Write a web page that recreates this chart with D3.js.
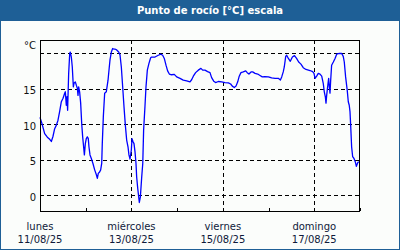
<!DOCTYPE html>
<html>
<head>
<meta charset="utf-8">
<script src="https://cdn.jsdelivr.net/npm/d3@7"></script>
<style>
html,body{margin:0;padding:0;background:#fbfdfb;}
svg{display:block;}
</style>
</head>
<body>
<svg id="chart" width="400" height="250"></svg>
<script>
// ---- data ----
const title = "Punto de rocío [°C] escala";
const unitLabel = "°C";
// hours since 11/08/25 00:00
const hours = [0,1.05,2.45,3.85,5.1,5.95,6.8,7.7,8.6,9.45,10.3,11.2,12.1,12.95,13.3,13.8,14.2,14.5,15.05,15.6,15.9,16.45,16.95,17.5,17.85,18.55,19.1,19.6,19.95,20.3,20.8,21.35,21.9,22.4,22.9,23.3,23.8,24.3,24.85,25.35,25.7,26.25,26.95,27.8,28.7,29.6,30.1,30.6,31.3,31.85,32.4,32.7,33.25,33.95,34.8,35.7,36.2,36.75,37.45,38.15,38.85,39.55,40.25,41.3,42,42.7,43.4,44.1,44.8,45.5,46.2,46.7,47.25,47.95,48.3,48.8,49.35,49.9,50.4,50.75,51.3,52.15,52.7,53.4,53.95,54.4,55.1,55.65,56.35,57.2,58.1,58.6,60.4,62.1,63.5,64.4,65.25,66.15,67.0,67.9,69.1,70.5,71.75,73.5,75.2,77.0,78.75,79.6,80.5,81.7,83.1,84.5,85.4,86.6,88.0,89.25,90.1,91.2,92.2,93.6,95.4,97.1,98.9,100.1,100.95,102.0,102.9,103.8,104.6,105.5,106.7,108.0,108.8,109.7,110.8,111.65,112.9,114.3,115.5,116.7,118.1,119.9,121.6,123.4,125.1,126.2,126.9,127.7,128.25,129.0,129.5,130.4,131.4,132.5,133.6,134.7,135.8,137.0,138.2,139.65,141.75,143.15,143.85,144.4,145.25,146.1,147.0,147.9,148.7,149.25,149.8,150.15,150.5,151.0,151.55,151.9,152.25,152.6,153.1,154.0,154.9,155.75,157.1,158.4,159.2,159.75,160.45,161.3,161.85,162.35,162.75,163.1,163.6,164.15,164.85,165.5,166.1,166.8,167.3];
const dewPoint = [11.0,10.1,8.7,8.2,7.9,7.6,8.3,9.4,9.9,10.6,11.8,13.2,13.7,14.4,14.6,12.7,13.9,12.0,17.2,20.0,20.2,19.5,18.1,15.3,15.8,16.0,15.5,15.1,14.1,15.3,14.6,13.0,10.1,8.25,6.85,5.7,7.3,8.0,8.25,8.0,6.85,5.7,5.2,4.5,3.6,2.9,2.4,3.1,3.3,3.6,4.5,7.3,11.1,14.4,14.6,16.2,17.6,19.1,20.2,20.7,20.6,20.6,20.5,20.2,19.8,18.1,15.3,12.5,9.9,7.8,6.85,5.7,5.1,6.4,8.0,7.6,7.3,6.1,4.5,2.6,1.0,-1.0,-0.2,2.6,4.5,9.2,12.5,15.3,17.65,18.6,19.4,19.5,19.5,19.75,19.9,19.75,19.3,18.35,17.55,17.1,17.0,17.05,16.7,16.5,16.25,16.15,16.0,16.3,16.8,17.3,17.65,17.9,17.65,17.65,17.45,17.3,16.6,16.1,15.9,16.05,16.0,15.9,15.85,15.7,15.4,15.2,15.4,16.0,16.8,17.3,17.4,17.55,17.3,17.1,17.4,17.4,17.2,17.1,16.9,16.7,16.75,16.7,16.55,16.5,16.5,16.25,16.7,17.4,18.1,19.6,19.75,19.3,18.9,19.5,19.7,19.3,18.8,18.5,18.0,17.75,17.6,17.45,17.2,16.5,16.8,17.2,17.1,16.8,15.8,14.6,13.9,13.0,14.1,15.3,16.5,15.3,14.4,16.2,18.35,18.8,19.3,19.9,20.0,20.0,19.6,18.8,16.7,14.8,13.2,12.7,11.8,9.9,6.85,5.45,5.2,4.75,4.1,4.6,4.75];
const yTicks = [0,5,10,15,20];
const yLabelTicks = [0,5,10,15];
const dayNames = ["lunes","miércoles","viernes","domingo"];
const dateLabels = ["11/08/25","13/08/25","15/08/25","17/08/25"];
const startDate = new Date(2025,7,11);
const endDate = new Date(2025,7,18);

// ---- layout ----
const W = 400, H = 250;
const L = 40, R = 360, T = 40, B = 211;
const blue = "#1e5f96";
const svg = d3.select("#chart");

svg.append("rect").attr("x",0).attr("y",0).attr("width",W).attr("height",H).attr("fill","#fbfdfb");
svg.append("rect").attr("x",0).attr("y",0).attr("width",W).attr("height",21).attr("fill",blue);
svg.append("rect").attr("x",0.5).attr("y",0.5).attr("width",W-1).attr("height",H-1)
  .attr("fill","none").attr("stroke",blue).attr("stroke-width",1);
svg.append("text").attr("x",210).attr("y",14).attr("text-anchor","middle")
  .attr("fill","#ffffff").attr("font-family","DejaVu Sans").attr("font-weight","bold")
  .attr("font-size","10px").text(title);

const x = d3.scaleTime().domain([startDate,endDate]).range([L,R]);
const y = d3.scaleLinear().domain([-2.2,21.9]).range([B,T]);

const data = hours.map((h,i)=>({t:new Date(startDate.getTime()+h*3600e3), v:dewPoint[i]}));
const labelDates = dateLabels.map(s=>{const p=s.split("/");return new Date(2000+(+p[2]),+p[1]-1,+p[0]);});

// grid
const grid = svg.append("g").attr("stroke","#000").attr("stroke-width",1)
  .attr("stroke-dasharray","4,3").attr("shape-rendering","crispEdges");
grid.selectAll("line.h").data(yTicks).join("line").attr("class","h")
  .attr("x1",L).attr("x2",R).attr("y1",d=>Math.round(y(d))+0.5).attr("y2",d=>Math.round(y(d))+0.5);
grid.selectAll("line.v").data(labelDates.slice(1)).join("line").attr("class","v")
  .attr("x1",d=>Math.round(x(d))+0.5).attr("x2",d=>Math.round(x(d))+0.5).attr("y1",T).attr("y2",B);

// day ticks (inside, upward)
const xAxis = d3.axisBottom(x).ticks(d3.timeDay.every(1)).tickSizeInner(-3).tickSizeOuter(0).tickFormat("");
const gx = svg.append("g").attr("transform",`translate(0,${B})`).call(xAxis);
gx.select(".domain").remove();
gx.selectAll(".tick line").attr("stroke","#000").attr("shape-rendering","crispEdges");

// y labels
const yAxis = d3.axisLeft(y).tickValues(yLabelTicks).tickSize(0).tickPadding(4);
const gy = svg.append("g").attr("transform",`translate(${L},0)`).call(yAxis);
gy.select(".domain").remove();
gy.selectAll("text").attr("font-family","DejaVu Sans").attr("font-size","10px")
  .attr("fill","#111").attr("dy","0.47em");
svg.append("text").attr("x",L-4).attr("y",49.3).attr("text-anchor","end")
  .attr("font-family","DejaVu Sans").attr("font-size","10px").attr("fill","#111").text(unitLabel);

// x labels
const xl = svg.append("g").attr("font-family","DejaVu Sans").attr("font-size","10px")
  .attr("fill","#0f1a3a").attr("text-anchor","middle");
xl.selectAll("text.d").data(labelDates).join("text").attr("class","d")
  .attr("x",d=>x(d)).attr("y",229.5).text((d,i)=>dayNames[i]);
xl.selectAll("text.t").data(labelDates).join("text").attr("class","t")
  .attr("x",d=>x(d)).attr("y",243).text((d,i)=>dateLabels[i]);

// line
const line = d3.line().x(d=>x(d.t)).y(d=>y(d.v));
svg.append("path").datum(data).attr("d",line).attr("fill","none")
  .attr("stroke","#0000ff").attr("stroke-width",1.3).attr("stroke-linejoin","round");

// frame
svg.append("rect").attr("x",L+0.5).attr("y",T+0.5).attr("width",R-L-1).attr("height",B-T)
  .attr("fill","none").attr("stroke","#000").attr("stroke-width",1).attr("shape-rendering","crispEdges");
</script>
</body>
</html>
